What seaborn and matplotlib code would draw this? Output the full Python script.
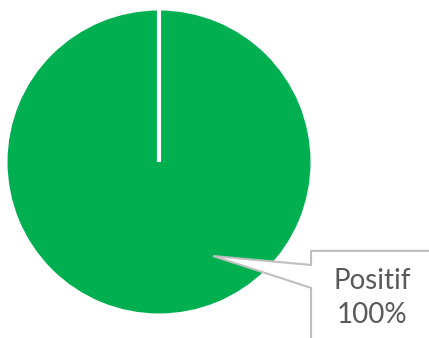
import numpy as np
import matplotlib
matplotlib.use("Agg")
import matplotlib.pyplot as plt
from matplotlib.patches import Polygon
import seaborn as sns

# Données
categories = ["Positif"]
valeurs = [100]
couleurs = ["#00B050"]

sns.set_theme(style="white")
plt.rcParams['font.family'] = ['Lato', 'DejaVu Sans']

fig = plt.figure(figsize=(4.29, 3.38), dpi=100)
ax = fig.add_axes([0, 0, 1, 1])

debut = 90
rayon = 1.015
ax.pie(valeurs, colors=couleurs, startangle=debut, counterclock=False,
       radius=rayon, wedgeprops=dict(edgecolor="white", linewidth=2.5))

# bord radial de la part (matplotlib ne le trace pas pour 100 %)
total = sum(valeurs)
angle = debut
for v in valeurs:
    a = np.deg2rad(angle)
    ax.plot([0, rayon * np.cos(a)], [0, rayon * np.sin(a)], color="white",
            linewidth=3, solid_capstyle="butt", zorder=2)
    angle -= v / total * 360

ax.set_xlim(-1.053, 1.788)
ax.set_ylim(-1.166, 1.073)
ax.set_aspect("equal")
ax.axis("off")

# Bulle de l'étiquette (style Excel)
pct = valeurs[0] / total * 100
tip = (0.358, -0.623)
bx0, by0, bx1, by1 = 1.007, -0.589, 2.5, -1.6
bulle = Polygon([(bx0, by0), (bx1, by0), (bx1, by1), (bx0, by1),
                 (bx0, -0.834), tip, (bx0, -0.682)],
                closed=True, facecolor="white", edgecolor="#BFBFBF",
                linewidth=1.5, zorder=3)
ax.add_patch(bulle)
ax.text(1.411, -0.90, f"{categories[0]}\n{pct:.0f}%", ha="center", va="center",
        fontsize=20, color="#595959", linespacing=1.4, zorder=4)

fig.savefig("out.png", dpi=100)
